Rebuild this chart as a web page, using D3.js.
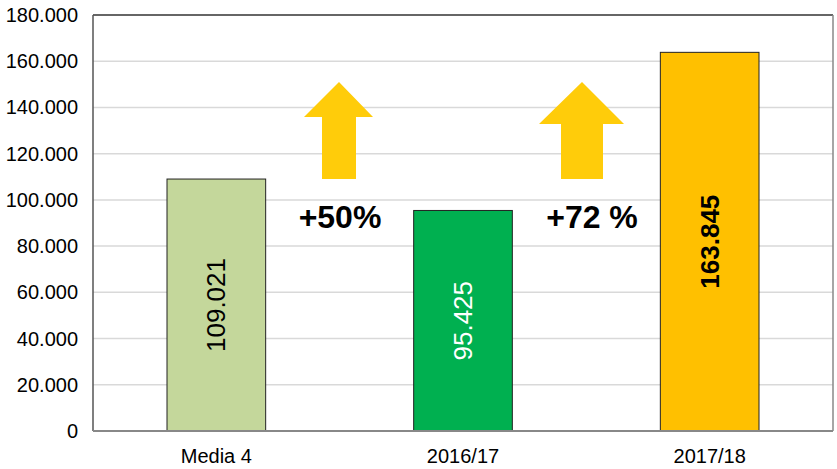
<!DOCTYPE html>
<html>
<head>
    <meta charset="utf-8">
    <script src="https://d3js.org/d3.v7.min.js"></script>
    <style>
        body { margin: 0; background: #fff; }
        text { font-family: "Liberation Sans", Arial, sans-serif; }
        .grid line { stroke: #d9d9d9; stroke-width: 1.5; }
    </style>
</head>
<body>
<div id="vis"></div>
<script>
    // chart data
    var categories = ["Media 4", "2016/17", "2017/18"];
    var values = [109021, 95425, 163845];
    var barColors = ["#c4d79b", "#00b050", "#ffc000"];
    var labelColors = ["#000", "#fff", "#000"];
    var labelWeights = ["normal", "normal", "bold"];
    var yTicks = [0, 20000, 40000, 60000, 80000, 100000, 120000, 140000, 160000, 180000];
    var growthLabels = ["+50%", "+72 %"];

    var width = 837, height = 469;
    var margin = {top: 15, right: 4, bottom: 38, left: 93};
    var innerW = width - margin.left - margin.right,
        innerH = height - margin.top - margin.bottom;

    var svg = d3.select("#vis").append("svg")
        .attr("width", width)
        .attr("height", height);

    var g = svg.append("g")
        .attr("transform", "translate(" + margin.left + "," + margin.top + ")");

    var x = d3.scaleBand().domain(categories).range([0, innerW]).padding(0);
    var y = d3.scaleLinear().domain([0, 180000]).range([innerH, 0]);

    var fmt = function(v) { return d3.format(",")(v).replace(/,/g, "."); };

    // gridlines
    g.append("g").attr("class", "grid")
        .selectAll("line").data(yTicks.slice(1, -1)).enter().append("line")
        .attr("x1", 0).attr("x2", innerW)
        .attr("y1", function(d) { return y(d); })
        .attr("y2", function(d) { return y(d); });

    // y tick labels
    g.append("g").selectAll("text").data(yTicks).enter().append("text")
        .attr("x", -15)
        .attr("y", function(d) { return y(d); })
        .attr("dy", "0.35em")
        .attr("text-anchor", "end")
        .style("font-size", "20px")
        .style("fill", "#000")
        .text(function(d) { return d === 0 ? "0" : fmt(d); });

    // bars
    var bw = x.bandwidth() * 0.4;
    var bars = g.append("g").selectAll("g").data(categories).enter().append("g");

    bars.append("rect")
        .attr("x", function(d) { return x(d) + (x.bandwidth() - bw) / 2; })
        .attr("y", function(d, i) { return y(values[i]); })
        .attr("width", bw)
        .attr("height", function(d, i) { return innerH - y(values[i]); })
        .style("fill", function(d, i) { return barColors[i]; })
        .style("stroke", "#222")
        .style("stroke-width", 1);

    bars.append("text")
        .attr("transform", function(d, i) {
            var cx = x(d) + x.bandwidth() / 2;
            var cy = (y(values[i]) + innerH) / 2;
            return "translate(" + cx + "," + cy + ") rotate(-90)";
        })
        .attr("text-anchor", "middle")
        .attr("dy", "0.35em")
        .style("font-size", "26px")
        .style("font-weight", function(d, i) { return labelWeights[i]; })
        .style("fill", function(d, i) { return labelColors[i]; })
        .text(function(d, i) { return fmt(values[i]); });

    // frame
    g.append("line").attr("x1", 0).attr("x2", innerW).attr("y1", 0).attr("y2", 0)
        .style("stroke", "#333").style("stroke-width", 1.5);
    g.append("line").attr("x1", 0).attr("x2", 0).attr("y1", 0).attr("y2", innerH)
        .style("stroke", "#555").style("stroke-width", 1.5);
    g.append("line").attr("x1", innerW).attr("x2", innerW).attr("y1", 0).attr("y2", innerH)
        .style("stroke", "#888").style("stroke-width", 1.5);
    g.append("line").attr("x1", 0).attr("x2", innerW).attr("y1", innerH).attr("y2", innerH)
        .style("stroke", "#888").style("stroke-width", 2);

    // x axis labels
    g.append("g").selectAll("text").data(categories).enter().append("text")
        .attr("x", function(d) { return x(d) + x.bandwidth() / 2; })
        .attr("y", innerH + 32)
        .attr("text-anchor", "middle")
        .style("font-size", "20px")
        .text(function(d) { return d; });

    // growth arrows between bars (drawn in page coords)
    var arrows = [
        {tip: [339, 82], headY: 117, headL: 304, headR: 373, shaftL: 322, shaftR: 356, bottom: 179},
        {tip: [582, 82], headY: 124, headL: 539, headR: 624, shaftL: 561, shaftR: 603, bottom: 179}
    ];
    svg.append("g").selectAll("path").data(arrows).enter().append("path")
        .attr("d", function(a) {
            return d3.line()([
                a.tip, [a.headR, a.headY], [a.shaftR, a.headY], [a.shaftR, a.bottom],
                [a.shaftL, a.bottom], [a.shaftL, a.headY], [a.headL, a.headY]
            ]) + "Z";
        })
        .style("fill", "#ffcc0a");

    svg.append("g").selectAll("text").data(growthLabels).enter().append("text")
        .attr("x", function(d, i) { return [340, 592][i]; })
        .attr("y", 228)
        .attr("text-anchor", "middle")
        .style("font-size", "32px")
        .style("font-weight", "bold")
        .text(function(d) { return d; });
</script>
</body>
</html>
